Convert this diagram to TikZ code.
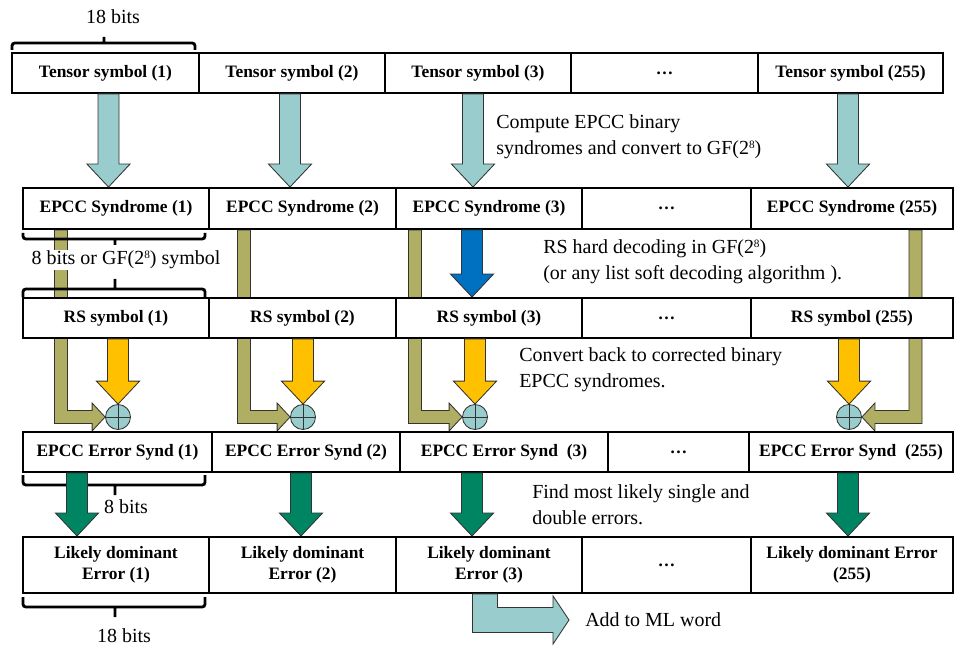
\documentclass[tikz,border=0pt]{standalone}
\usepackage{fontspec}
\setmainfont{Liberation Serif}
\usetikzlibrary{calc,backgrounds}

\definecolor{tealfill}{HTML}{99CCCC}
\definecolor{olivefill}{HTML}{B0AE62}
\definecolor{yellowfill}{HTML}{FFC000}
\definecolor{bluefill}{HTML}{0070C0}
\definecolor{greenfill}{HTML}{008563}

\tikzset{
  cell/.style={draw, line width=1.4pt, fill=white, minimum height=1cm, inner sep=0pt, align=center,
    font=\bfseries\fontsize{12.4}{14.9}\selectfont},
  note/.style={anchor=west, inner sep=0pt, align=left, font=\fontsize{14.2}{18.5}\selectfont},
  bits/.style={inner sep=1pt, font=\fontsize{14.2}{17}\selectfont},
  bracket/.style={line width=2pt, rounded corners=2pt},
  blockarrow/.style={draw=black!80, line width=0.6pt},
  xorgate/.style={circle, draw=black!80, line width=0.6pt, fill=tealfill, minimum size=0.625cm, inner sep=0pt,
    path picture={\draw[line width=0.6pt] (path picture bounding box.north) -- (path picture bounding box.south)
      (path picture bounding box.west) -- (path picture bounding box.east);}}
}

% GF(2^8) with a small raised 8
\newcommand{\gfeight}{GF(2\raisebox{4.3pt}{\fontsize{8}{9}\selectfont 8})}

% straight block arrow going down: colour, from, to
\newcommand{\vblock}[3]{%
  \draw[blockarrow, fill=#1] let \p1=#2, \p2=#3 in
    ({\x1-0.2625cm},\y1) -- ({\x1+0.2625cm},\y1) -- ({\x1+0.2625cm},{\y2+0.575cm})
    -- ({\x1+0.54cm},{\y2+0.575cm}) -- (\x1,\y2) -- ({\x1-0.54cm},{\y2+0.575cm})
    -- ({\x1-0.2625cm},{\y2+0.575cm}) -- cycle;}

% bent block arrow, down then sideways: colour, from, to, direction, shaft, head, head length
\newcommand{\lblock}[7]{%
  \draw[blockarrow, fill=#1] let \p1=#2, \p2=#3 in
    ({\x1-(#4)*#5},\y1) -- ({\x1+(#4)*#5},\y1) -- ({\x1+(#4)*#5},{\y2+#5})
    -- ({\x2-(#4)*#7},{\y2+#5}) -- ({\x2-(#4)*#7},{\y2+#6}) -- (\x2,\y2)
    -- ({\x2-(#4)*#7},{\y2-#6}) -- ({\x2-(#4)*#7},{\y2-#5})
    -- ({\x1-(#4)*#5},{\y2-#5}) -- cycle;}

\begin{document}
\begin{tikzpicture}
\useasboundingbox (0,0) rectangle (24,-16.15);

% tensor symbols
\node[cell, minimum width=4.675cm] (t1) at (2.6375,-1.825) {Tensor symbol (1)};
\node[cell, minimum width=4.65cm] (t2) at (7.3,-1.825) {Tensor symbol (2)};
\node[cell, minimum width=4.65cm] (t3) at (11.95,-1.825) {Tensor symbol (3)};
\node[cell, minimum width=4.675cm] (t4) at (16.6125,-1.825) {…};
\node[cell, minimum width=4.625cm] (t5) at (21.2625,-1.825) {Tensor symbol (255)};

% syndromes
\node[cell, minimum width=4.65cm, minimum height=1.025cm] (s1) at (2.9,-5.2125) {EPCC Syndrome (1)};
\node[cell, minimum width=4.675cm, minimum height=1.025cm] (s2) at (7.5625,-5.2125) {EPCC Syndrome (2)};
\node[cell, minimum width=4.65cm, minimum height=1.025cm] (s3) at (12.225,-5.2125) {EPCC Syndrome (3)};
\node[cell, minimum width=4.225cm, minimum height=1.025cm] (s4) at (16.6625,-5.2125) {…};
\node[cell, minimum width=5.05cm, minimum height=1.025cm] (s5) at (21.3,-5.2125) {EPCC Syndrome (255)};

% RS symbols
\node[cell, minimum width=4.65cm] (r1) at (2.9,-7.95) {RS symbol (1)};
\node[cell, minimum width=4.675cm] (r2) at (7.5625,-7.95) {RS symbol (2)};
\node[cell, minimum width=4.65cm] (r3) at (12.225,-7.95) {RS symbol (3)};
\node[cell, minimum width=4.225cm] (r4) at (16.6625,-7.95) {…};
\node[cell, minimum width=5.05cm] (r5) at (21.3,-7.95) {RS symbol (255)};

% xor gates
\node[xorgate] (x1) at (2.95,-10.425) {};
\node[xorgate] (x2) at (7.575,-10.425) {};
\node[xorgate] (x3) at (11.875,-10.425) {};
\node[xorgate] (x5) at (21.225,-10.425) {};

% error syndromes
\node[cell, minimum width=4.725cm] (e1) at (2.9375,-11.3) {EPCC Error Synd (1)};
\node[cell, minimum width=4.7cm] (e2) at (7.65,-11.3) {EPCC Error Synd (2)};
\node[cell, minimum width=5.2cm] (e3) at (12.6,-11.3) {EPCC Error Synd\ \ (3)};
\node[cell, minimum width=3.525cm] (e4) at (16.9625,-11.3) {…};
\node[cell, minimum width=5.1cm] (e5) at (21.275,-11.3) {EPCC Error Synd\ \ (255)};

% likely errors
\node[cell, minimum width=4.65cm, minimum height=1.4cm] (l1) at (2.9,-14.125) {Likely dominant\\Error (1)};
\node[cell, minimum width=4.675cm, minimum height=1.4cm] (l2) at (7.5625,-14.125) {Likely dominant\\Error (2)};
\node[cell, minimum width=4.65cm, minimum height=1.4cm] (l3) at (12.225,-14.125) {Likely dominant\\Error (3)};
\node[cell, minimum width=4.225cm, minimum height=1.4cm] (l4) at (16.6625,-14.125) {…};
\node[cell, minimum width=5.05cm, minimum height=1.4cm] (l5) at (21.3,-14.125) {Likely dominant Error\\(255)};

% notes
\node[note] (c1) at (12.4,-3.4125) {Compute EPCC binary\\syndromes and convert to \gfeight};
\node[note] (c2) at (13.575,-6.5375) {RS hard decoding in \gfeight\\(or any list soft decoding algorithm ).};
\node[note] (c3) at (12.975,-9.25) {Convert back to corrected binary\\EPCC syndromes.};
\node[note] (c4) at (13.3,-12.625) {Find most likely single and\\double errors.};
\node[note] (ml) at (14.625,-15.5) {Add to ML word};

% widths
\node[bits] (b1) at (2.825,-0.425) {18 bits};
\node[bits, fill=white] (b2) at (3.15,-6.5) {8 bits or \gfeight{} symbol};
\node[bits] (b3) at (3.15,-12.675) {8 bits};
\node[bits] (b4) at (3.1,-15.9) {18 bits};

\draw[bracket] (0.3,-1.25) -- (0.3,-1.075) -- (4.875,-1.075) -- (4.875,-1.25) (2.6,-1.075) -- (2.6,-0.925);
\draw[bracket] (0.575,-5.825) -- (0.575,-5.975) -- (5.125,-5.975) -- (5.125,-5.825) (2.875,-5.975) -- (2.875,-6.125);
\draw[bracket] (0.575,-7.425) -- (0.575,-7.225) -- (5.125,-7.225) -- (5.125,-7.425) (2.875,-7.225) -- (2.875,-6.975);
\draw[bracket] (0.575,-11.875) -- (0.575,-12.125) -- (5.125,-12.125) -- (5.125,-11.875) (2.875,-12.125) -- (2.875,-12.375);
\draw[bracket] (0.575,-14.925) -- (0.575,-15.175) -- (5.125,-15.175) -- (5.125,-14.925) (2.875,-15.175) -- (2.875,-15.425);

% bypass of the RS row
\begin{scope}[on background layer]
\lblock{olivefill}{([xshift=-1.375cm]s1.south)}{(x1.west)}{1}{0.1625cm}{0.35cm}{0.325cm}
\lblock{olivefill}{([xshift=-1.4625cm]s2.south)}{(x2.west)}{1}{0.1625cm}{0.35cm}{0.325cm}
\lblock{olivefill}{([xshift=-1.85cm]s3.south)}{(x3.west)}{1}{0.1625cm}{0.35cm}{0.325cm}
\lblock{olivefill}{([xshift=1.5875cm]s5.south)}{(x5.east)}{-1}{0.1625cm}{0.35cm}{0.325cm}
\end{scope}

\vblock{tealfill}{([xshift=0.075cm]t1.south)}{(s1.north)}
\vblock{tealfill}{([xshift=-0.05cm]t2.south)}{(s2.north)}
\vblock{tealfill}{([xshift=-0.125cm]t3.south)}{(s3.north)}
\vblock{tealfill}{([xshift=-0.0625cm]t5.south)}{(s5.north)}

\vblock{bluefill}{([xshift=-0.425cm]s3.south)}{(r3.north)}

\vblock{yellowfill}{(x1 |- r1.south)}{(x1.north)}
\vblock{yellowfill}{(x2 |- r2.south)}{(x2.north)}
\vblock{yellowfill}{(x3 |- r3.south)}{(x3.north)}
\vblock{yellowfill}{(x5 |- r5.south)}{(x5.north)}

\vblock{greenfill}{([xshift=-1.0125cm]e1.south)}{(l1.north)}
\vblock{greenfill}{([xshift=-0.125cm]e2.south)}{(l2.north)}
\vblock{greenfill}{([xshift=-0.8cm]e3.south)}{(l3.north)}
\vblock{greenfill}{([xshift=-0.075cm]e5.south)}{(l5.north)}

\lblock{tealfill}{([xshift=-0.1cm]l3.south)}{([xshift=-0.4cm]ml.west)}{1}{0.3125cm}{0.6cm}{0.4cm}
\end{tikzpicture}
\end{document}
